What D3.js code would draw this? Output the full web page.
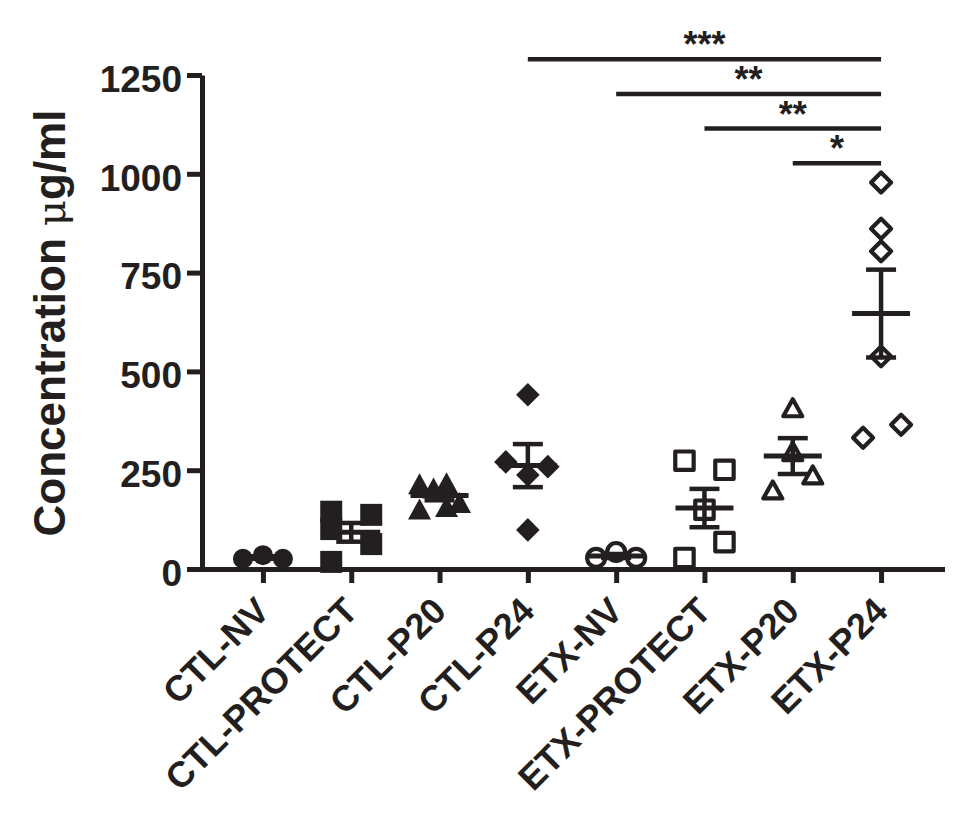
<!DOCTYPE html>
<meta charset="utf-8">
<style>

body {
  margin: 0;
  background: #fff;
}

svg {
  display: block;
}

text {
  font-family: "Liberation Sans", Arial, Helvetica, sans-serif;
  font-weight: bold;
  fill: #231f20;
}

.axis path,
.axis line {
  stroke: #231f20;
  stroke-width: 5;
}

</style>
<svg width="975" height="831"></svg>
<script src="https://cdnjs.cloudflare.com/ajax/libs/d3/7.8.5/d3.min.js"></script>
<script>

var groups = ["CTL-NV", "CTL-PROTECT", "CTL-P20", "CTL-P24", "ETX-NV", "ETX-PROTECT", "ETX-P20", "ETX-P24"];

var shapes = ["circle", "square", "triangle", "diamond", "circle", "square", "triangle", "diamond"],
    filled = [true, true, true, true, false, false, false, false];

// one list of readings per group
var values = [
  [26, 35, 26],
  [145, 101, 18, 137, 63],
  [216, 205, 218, 152, 158, 168],
  [441, 271, 259, 238, 99],
  [28, 43, 28],
  [274, 251, 150, 68, 28],
  [408, 297, 238, 200],
  [978, 861, 804, 538, 332, 365]
];

// scatter column of each reading (-1 left, 0 centre, 1 right)
var lanes = [
  [-1, 0, 1],
  [-1, -1, -1, 1, 1],
  [-1, -0.3, 0.35, -1, 0.35, 1],
  [0, -1.1, 1, 0, 0],
  [-1, 0, 1],
  [-1, 1, 0, 1, -1],
  [0, 0, 1, -1],
  [0, 0, 0, 0, -0.9, 1]
];

var yTicks = [0, 250, 500, 750, 1000, 1250];

var sigFrom = ["CTL-P24", "ETX-NV", "ETX-PROTECT", "ETX-P20"],
    sigTo = "ETX-P24",
    sigText = ["***", "**", "**", "*"];

var ink = "#231f20";

var svg = d3.select("svg");

var x = d3.scalePoint()
    .domain(groups)
    .range([202, 942])
    .padding(0.69);

var y = d3.scaleLinear()
    .domain([0, 1250])
    .range([569, 75]);

var lane = d3.scaleLinear()
    .domain([-1, 1])
    .range([-20, 20]);

// y axis
svg.append("g")
    .attr("class", "axis")
    .attr("transform", "translate(202,0)")
    .call(d3.axisLeft(y).tickValues(yTicks).tickFormat(d3.format("d")).tickSize(15).tickSizeOuter(0).tickPadding(5))
    .call(function(g) {
      g.selectAll("text")
          .style("font-size", "37px")
          .attr("dy", "0.44em");
    });

// x axis
svg.append("g")
    .attr("class", "axis")
    .attr("transform", "translate(0,569)")
    .call(d3.axisBottom(x).tickSize(14).tickSizeOuter(0))
    .call(function(g) {
      g.select(".domain").attr("stroke-linecap", "square");
      g.selectAll("text")
          .style("font-size", "36px")
          .attr("text-anchor", "end")
          .attr("x", 0)
          .attr("y", 0)
          .attr("dy", 0)
          .attr("transform", "translate(8,44) rotate(-45)");
    });

svg.append("text")
    .attr("transform", "translate(65,323) rotate(-90)")
    .attr("text-anchor", "middle")
    .style("font-size", "44px")
    .call(function(t) {
      t.append("tspan").text("Concentration ");
      t.append("tspan")
          .style("font-family", "'DejaVu Serif', 'Liberation Serif', serif")
          .style("font-weight", "normal")
          .style("font-size", "40px")
          .text("\u03bc");
      t.append("tspan").text("g/ml");
    });

function shapePath(shape, open) {
  var s = open ? 9.2 : 11;
  if (shape == "circle") {
    var r = open ? 9 : 10;
    return "M" + r + ",0A" + r + "," + r + " 0 1,1 " + (-r) + ",0A" + r + "," + r + " 0 1,1 " + r + ",0Z";
  }
  if (shape == "square") return "M" + (-s) + "," + (-s) + "H" + s + "V" + s + "H" + (-s) + "Z";
  if (shape == "diamond") {
    var d = s + 0.8;
    return "M0," + (-d) + "L" + d + ",0L0," + d + "L" + (-d) + ",0Z";
  }
  var w = open ? 9.5 : 11.5, h = open ? 8.5 : 10.5;
  return "M0," + (-h) + "L" + w + "," + h + "L" + (-w) + "," + h + "Z";
}

var points = [];
groups.forEach(function(g, i) {
  values[i].forEach(function(v, j) {
    points.push({group: g, i: i, value: v, lane: lanes[i][j]});
  });
});

svg.append("g")
  .selectAll("path")
    .data(points)
  .enter().append("path")
    .attr("transform", function(d) { return "translate(" + (x(d.group) + lane(d.lane)) + "," + y(d.value) + ")"; })
    .attr("d", function(d) { return shapePath(shapes[d.i], !filled[d.i]); })
    .attr("fill", function(d) { return filled[d.i] ? ink : "#fff"; })
    .attr("stroke", function(d) { return filled[d.i] ? "none" : ink; })
    .attr("stroke-width", 4.2)
    .attr("stroke-linejoin", "round");

// mean and standard error per group
var stats = groups.map(function(g, i) {
  var m = d3.mean(values[i]),
      se = d3.deviation(values[i]) / Math.sqrt(values[i].length);
  return {group: g, mean: m, lo: m - se, hi: m + se};
});

var bars = svg.append("g")
    .attr("stroke", ink)
    .selectAll("g")
    .data(stats)
  .enter().append("g");

bars.append("line")
    .attr("x1", function(d) { return x(d.group) - 29; })
    .attr("x2", function(d) { return x(d.group) + 29; })
    .attr("y1", function(d) { return y(d.mean); })
    .attr("y2", function(d) { return y(d.mean); })
    .attr("stroke-width", 5);

bars.append("line")
    .attr("x1", function(d) { return x(d.group); })
    .attr("x2", function(d) { return x(d.group); })
    .attr("y1", function(d) { return y(d.lo); })
    .attr("y2", function(d) { return y(d.hi); })
    .attr("stroke-width", 4.5);

bars.selectAll(".cap")
    .data(function(d) { return [d.lo, d.hi].map(function(v) { return {group: d.group, v: v}; }); })
  .enter().append("line")
    .attr("class", "cap")
    .attr("x1", function(d) { return x(d.group) - 15; })
    .attr("x2", function(d) { return x(d.group) + 15; })
    .attr("y1", function(d) { return y(d.v); })
    .attr("y2", function(d) { return y(d.v); })
    .attr("stroke-width", 4.5);

// significance brackets
var sigTop = y(1290), sigGap = 34.7;

var sig = svg.append("g")
    .selectAll("g")
    .data(sigFrom)
  .enter().append("g")
    .attr("transform", function(d, i) { return "translate(0," + (sigTop + i * sigGap) + ")"; });

sig.append("line")
    .attr("x1", function(d) { return x(d); })
    .attr("x2", x(sigTo))
    .attr("stroke", ink)
    .attr("stroke-width", 4.5);

sig.append("text")
    .attr("x", function(d) { return (x(d) + x(sigTo)) / 2; })
    .attr("y", -2)
    .attr("text-anchor", "middle")
    .style("font-size", "36px")
    .text(function(d, i) { return sigText[i]; });

</script>
